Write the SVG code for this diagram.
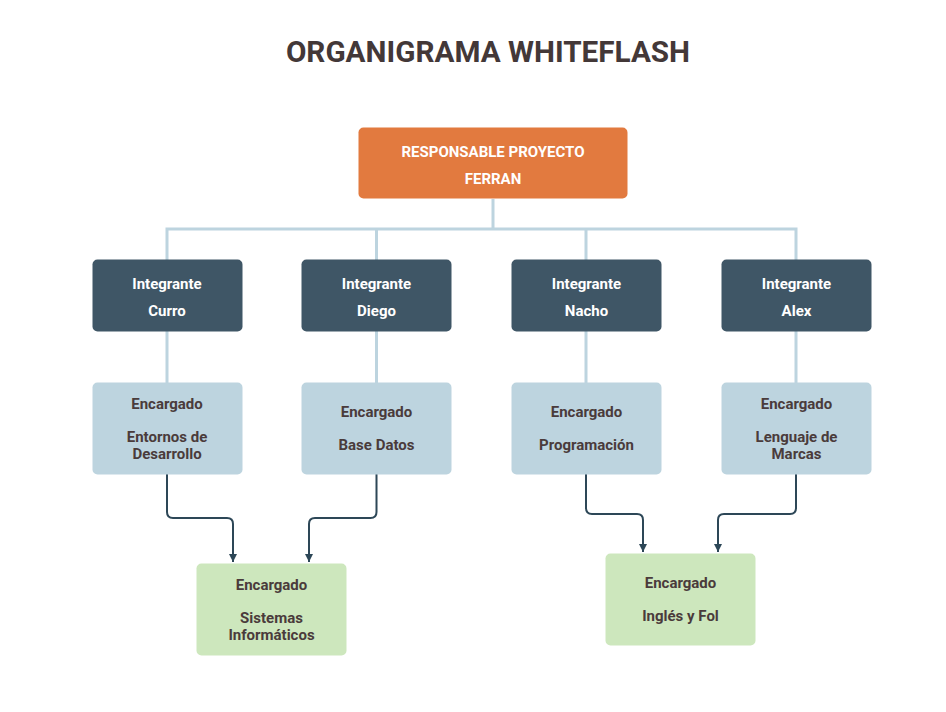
<svg xmlns="http://www.w3.org/2000/svg" width="946" height="712" viewBox="0 0 946 712">
<style>
text{font-family:Roboto,"Liberation Sans",sans-serif;font-weight:bold;text-anchor:middle}
.title{font-size:29.7px;fill:#433838}
.w{font-size:15px;fill:#ffffff}
.d{font-size:15px;fill:#4a3b3b}
.org{fill:#E27A3F}
.dark{fill:#3F5666}
.light{fill:#BDD4DF}
.green{fill:#CDE7BD}
.lc{fill:none;stroke:#BDD4DF;stroke-width:3}
.ac{fill:none;stroke:#2D4757;stroke-width:2}
</style>
<defs>
<marker id="ah" markerWidth="8" markerHeight="8" refX="8" refY="4" orient="auto" markerUnits="userSpaceOnUse">
<path d="M0,0 L8,4 L0,8 Z" fill="#2D4757"/>
</marker>
</defs>
<rect width="946" height="712" fill="#ffffff"/>
<text class="title" x="488" y="62">ORGANIGRAMA WHITEFLASH</text>
<g id="connectors">
<path class="lc" d="M493,199 V229 M167,260 V229 H796 V260 M376.5,229 V260 M586,229 V260"/>
<path class="lc" d="M167,331 V383 M376.5,331 V383 M586,331 V383 M796,331 V383"/>
<path class="ac" d="M167,474 V512 Q167,518 173,518 H227 Q233,518 233,524 V562" marker-end="url(#ah)"/>
<path class="ac" d="M376.5,474 V512 Q376.5,518 370.5,518 H315 Q309,518 309,524 V562" marker-end="url(#ah)"/>
<path class="ac" d="M586,474 V508 Q586,514 592,514 H637 Q643,514 643,520 V552" marker-end="url(#ah)"/>
<path class="ac" d="M796,474 V508 Q796,514 790,514 H724 Q718,514 718,520 V552" marker-end="url(#ah)"/>
</g>
<g id="n-responsable">
<rect class="org" x="358.5" y="127.5" width="269" height="71" rx="5"/>
<text class="w" x="493" y="157">RESPONSABLE PROYECTO</text>
<text class="w" x="493" y="184">FERRAN</text>
</g>
<g id="n-curro">
<rect class="dark" x="92.5" y="259.5" width="150" height="72" rx="5"/>
<text class="w" x="167" y="289">Integrante</text>
<text class="w" x="167" y="316">Curro</text>
</g>
<g id="n-diego">
<rect class="dark" x="301.5" y="259.5" width="150" height="72" rx="5"/>
<text class="w" x="376.5" y="289">Integrante</text>
<text class="w" x="376.5" y="316">Diego</text>
</g>
<g id="n-nacho">
<rect class="dark" x="511.5" y="259.5" width="150" height="72" rx="5"/>
<text class="w" x="586.5" y="289">Integrante</text>
<text class="w" x="586.5" y="316">Nacho</text>
</g>
<g id="n-alex">
<rect class="dark" x="721.5" y="259.5" width="150" height="72" rx="5"/>
<text class="w" x="796.5" y="289">Integrante</text>
<text class="w" x="796.5" y="316">Alex</text>
</g>
<g id="n-entornos">
<rect class="light" x="92.5" y="382.5" width="150" height="92" rx="5"/>
<text class="d" x="167" y="409">Encargado</text>
<text class="d" x="167" y="441.5">Entornos de</text>
<text class="d" x="167" y="459">Desarrollo</text>
</g>
<g id="n-basedatos">
<rect class="light" x="301.5" y="382.5" width="150" height="92" rx="5"/>
<text class="d" x="376.5" y="417">Encargado</text>
<text class="d" x="376.5" y="450">Base Datos</text>
</g>
<g id="n-programacion">
<rect class="light" x="511.5" y="382.5" width="150" height="92" rx="5"/>
<text class="d" x="586.5" y="417">Encargado</text>
<text class="d" x="586.5" y="450">Programación</text>
</g>
<g id="n-lenguaje">
<rect class="light" x="721.5" y="382.5" width="150" height="92" rx="5"/>
<text class="d" x="796.5" y="409">Encargado</text>
<text class="d" x="796.5" y="441.5">Lenguaje de</text>
<text class="d" x="796.5" y="459">Marcas</text>
</g>
<g id="n-sistemas">
<rect class="green" x="196.5" y="563.5" width="150" height="92" rx="5"/>
<text class="d" x="271.5" y="590">Encargado</text>
<text class="d" x="271.5" y="622.5">Sistemas</text>
<text class="d" x="271.5" y="640">Informáticos</text>
</g>
<g id="n-ingles">
<rect class="green" x="605.5" y="553.5" width="150" height="92" rx="5"/>
<text class="d" x="680.5" y="588">Encargado</text>
<text class="d" x="680.5" y="621">Inglés y Fol</text>
</g>
</svg>
